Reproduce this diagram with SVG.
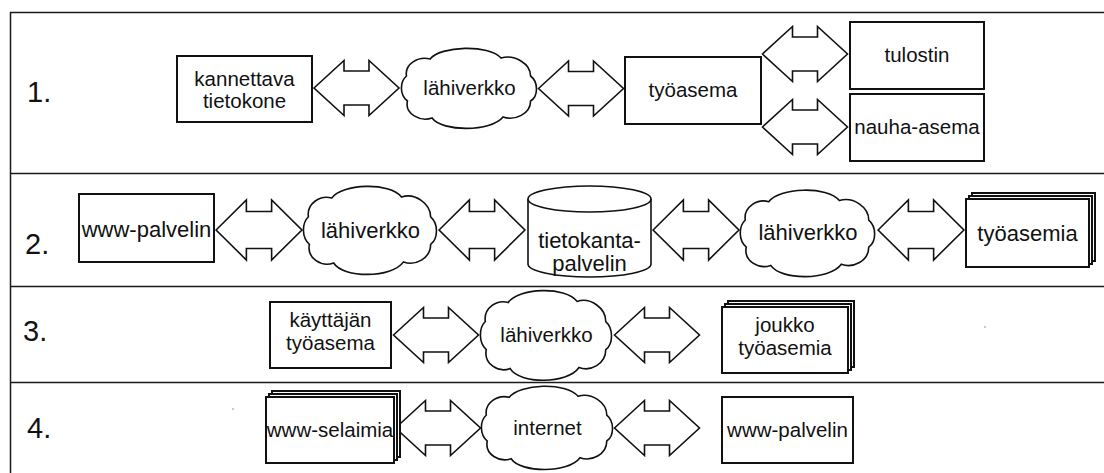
<svg xmlns="http://www.w3.org/2000/svg" xmlns:xlink="http://www.w3.org/1999/xlink" width="1104" height="473" viewBox="0 0 1104 473">
  <style>
    .frame { fill: none; stroke: #1a1a1a; stroke-width: 1.5; }
    .box { fill: #fff; stroke: #111; stroke-width: 2; }
    .shape { fill: #fff; stroke: #111; stroke-width: 1.6; vector-effect: non-scaling-stroke; }
    .lbl { font-family: "Liberation Sans", Arial, sans-serif; font-size: 20.5px; fill: #111; text-anchor: middle; }
    .lbl2 { font-size: 22px; }
    .num { font-family: "Liberation Sans", Arial, sans-serif; font-size: 29px; fill: #111; }
  </style>
  <defs>
    <!-- bulky double-headed arrow, 85 long, centred on the origin -->
    <path id="dblArrow" class="shape" d="M -42.5,0 L -12.5,-27.5 L -12.5,-17 L 12.5,-17 L 12.5,-27.5 L 42.5,0 L 12.5,27.5 L 12.5,17 L -12.5,17 L -12.5,27.5 Z"/>
    <!-- network cloud, about 137 x 80, centred on the origin -->
    <path id="cloud" class="shape" d="M -64,-12 C -66,-24 -52,-32 -40,-29 C -30,-42 20,-44 32,-30 C 46,-34 62,-24 62,-12 C 70,-6 70,8 62,13 C 62,26 46,33 34,29 C 22,44 -28,44 -38,30 C -50,34 -66,26 -63,13 C -71,7 -71,-6 -64,-12 Z"/>
  </defs>

  <!-- frame and row separators -->
  <g id="frame">
    <path class="frame" d="M 10.5,473 L 10.5,12.5 L 1104,12.5"/>
    <line class="frame" x1="10.5" y1="173.5" x2="1104" y2="173.5"/>
    <line class="frame" x1="10.5" y1="286.5" x2="1104" y2="286.5"/>
    <line class="frame" x1="10.5" y1="382.5" x2="1104" y2="382.5"/>
  </g>

  <!-- row numbers -->
  <g id="row-numbers">
    <text class="num" x="27" y="102">1.</text>
    <text class="num" x="25" y="254">2.</text>
    <text class="num" x="23" y="341">3.</text>
    <text class="num" x="27" y="438">4.</text>
  </g>

  <!-- connectors -->
  <g id="connectors">
    <use xlink:href="#dblArrow" transform="translate(356.5,88)"/>
    <use xlink:href="#dblArrow" transform="translate(581,88.5)"/>
    <use xlink:href="#dblArrow" transform="translate(805,54)"/>
    <use xlink:href="#dblArrow" transform="translate(805,127)"/>

    <use xlink:href="#dblArrow" transform="translate(259,230) scale(1.01,1.09)"/>
    <use xlink:href="#dblArrow" transform="translate(482,230) scale(1.01,1.09)"/>
    <use xlink:href="#dblArrow" transform="translate(696,230) scale(1.01,1.09)"/>
    <use xlink:href="#dblArrow" transform="translate(921,230) scale(1.01,1.09)"/>

    <use xlink:href="#dblArrow" transform="translate(436,335)"/>
    <use xlink:href="#dblArrow" transform="translate(657,335)"/>

    <use xlink:href="#dblArrow" transform="translate(438,428)"/>
    <use xlink:href="#dblArrow" transform="translate(657,428)"/>
  </g>

  <!-- row 1 -->
  <g id="r1-kannettava">
    <rect class="box" x="177" y="56" width="135" height="66"/>
    <text class="lbl" x="244.5" y="86">kannettava</text>
    <text class="lbl" x="244.5" y="108">tietokone</text>
  </g>
  <g id="r1-lahiverkko">
    <use xlink:href="#cloud" transform="translate(469.5,88) scale(0.985,1)"/>
    <text class="lbl" x="469.5" y="95">lähiverkko</text>
  </g>
  <g id="r1-tyoasema">
    <rect class="box" x="625" y="57" width="136" height="67"/>
    <text class="lbl" x="693" y="97">työasema</text>
  </g>
  <g id="r1-tulostin">
    <rect class="box" x="850" y="22" width="134" height="67"/>
    <text class="lbl" x="917" y="62">tulostin</text>
  </g>
  <g id="r1-nauha-asema">
    <rect class="box" x="850" y="94" width="134" height="67"/>
    <text class="lbl" x="917" y="134">nauha-asema</text>
  </g>

  <!-- row 2 -->
  <g id="r2-www-palvelin">
    <rect class="box" x="79" y="194" width="135" height="68"/>
    <text class="lbl lbl2" x="146.5" y="237">www-palvelin</text>
  </g>
  <g id="r2-lahiverkko-a">
    <use xlink:href="#cloud" transform="translate(370.5,230) scale(0.97,1.1)"/>
    <text class="lbl lbl2" x="370.5" y="238">lähiverkko</text>
  </g>
  <g id="r2-tietokantapalvelin">
    <path class="shape" d="M 528,199 L 528,264 A 61.5,13 0 0 0 651,264 L 651,199"/>
    <ellipse class="shape" cx="589.5" cy="199" rx="61.5" ry="13"/>
    <text class="lbl lbl2" x="589.5" y="248">tietokanta-</text>
    <text class="lbl lbl2" x="589.5" y="271">palvelin</text>
  </g>
  <g id="r2-lahiverkko-b">
    <use xlink:href="#cloud" transform="translate(808,233) scale(0.98,1.08)"/>
    <text class="lbl lbl2" x="808" y="240">lähiverkko</text>
  </g>
  <g id="r2-tyoasemia">
    <rect class="box" x="972" y="193" width="123" height="68"/>
    <rect class="box" x="969" y="196" width="123" height="68"/>
    <rect class="box" x="966" y="199" width="123" height="68"/>
    <text class="lbl lbl2" x="1027.5" y="241">työasemia</text>
  </g>

  <!-- row 3 -->
  <g id="r3-kayttajan-tyoasema">
    <rect class="box" x="270" y="302" width="121" height="66"/>
    <text class="lbl" x="330.5" y="327">käyttäjän</text>
    <text class="lbl" x="330.5" y="350">työasema</text>
  </g>
  <g id="r3-lahiverkko">
    <use xlink:href="#cloud" transform="translate(546.5,335) scale(0.956,1.12)"/>
    <text class="lbl" x="546.5" y="342">lähiverkko</text>
  </g>
  <g id="r3-joukko-tyoasemia">
    <rect class="box" x="728" y="301" width="126" height="66"/>
    <rect class="box" x="725" y="304" width="126" height="66"/>
    <rect class="box" x="722" y="307" width="126" height="66"/>
    <text class="lbl" x="785" y="332">joukko</text>
    <text class="lbl" x="785" y="355">työasemia</text>
  </g>

  <!-- row 4 -->
  <g id="r4-www-selaimia">
    <rect class="box" x="272" y="391" width="128" height="66"/>
    <rect class="box" x="269" y="394" width="128" height="66"/>
    <rect class="box" x="266" y="397" width="128" height="66"/>
    <text class="lbl" x="330" y="437">www-selaimia</text>
  </g>
  <g id="r4-internet">
    <use xlink:href="#cloud" transform="translate(547.5,427.5) scale(0.956,1.04)"/>
    <text class="lbl" x="547.5" y="435">internet</text>
  </g>
  <g id="r4-www-palvelin">
    <rect class="box" x="722" y="397" width="131" height="66"/>
    <text class="lbl" x="787.5" y="437">www-palvelin</text>
  </g>

  <!-- stray specks -->
  <g id="specks" fill="#888">
    <circle cx="985" cy="327" r="0.8"/>
    <circle cx="233" cy="409" r="0.8"/>
  </g>
</svg>
